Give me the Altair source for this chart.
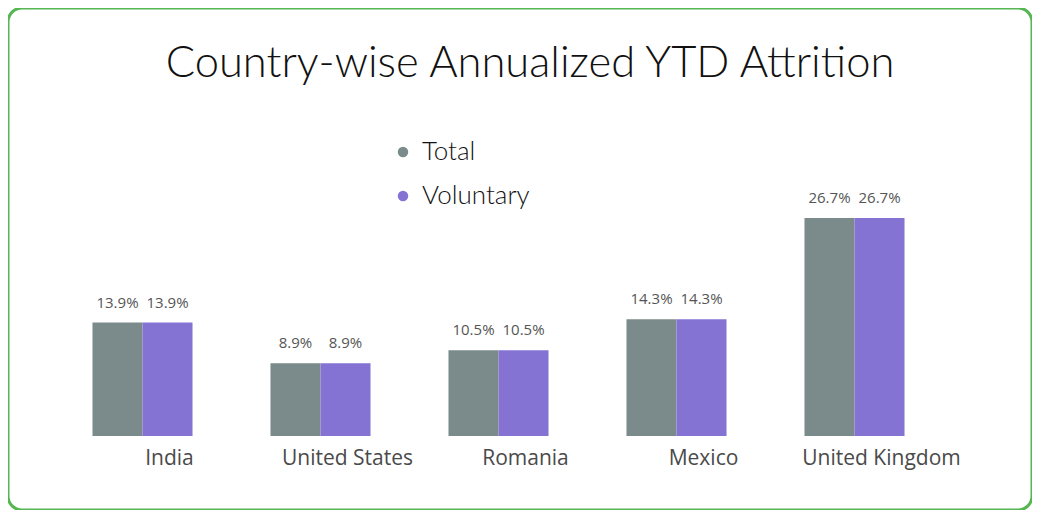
import altair as alt
import pandas as pd

countries = ["India", "United States", "Romania", "Mexico", "United Kingdom"]
total = [13.9, 8.9, 10.5, 14.3, 26.7]
voluntary = [13.9, 8.9, 10.5, 14.3, 26.7]
series = ["Total", "Voluntary"]
colors = ["#7b8b8b", "#8573d4"]

rows = []
for c, t, v in zip(countries, total, voluntary):
    rows.append({"country": c, "series": "Total", "value": t})
    rows.append({"country": c, "series": "Voluntary", "value": v})
df = pd.DataFrame(rows)

W, H = 1024, 502

x = alt.X(
    "country:N",
    sort=countries,
    scale=alt.Scale(range=[45.5, 935.5], paddingInner=0.438, paddingOuter=0.219),
    axis=alt.Axis(
        title=None, orient="bottom", offset=-74, domain=False, ticks=False,
        labelAngle=0, labelOffset=27, labelPadding=22, labelFontSize=21,
        labelFont="Open Sans", labelColor="#4a4a4a", labelBaseline="middle",
    ),
)
xo = alt.XOffset("series:N", sort=series, scale=alt.Scale(paddingInner=0, paddingOuter=0))
y = alt.Y("value:Q", scale=alt.Scale(domain=[-9.07, 52.45], zero=False, nice=False), axis=None)

base = alt.Chart(df)

bars = base.mark_bar().encode(
    x=x,
    xOffset=xo,
    y=y,
    color=alt.Color(
        "series:N",
        sort=series,
        scale=alt.Scale(domain=series, range=colors),
        legend=alt.Legend(
            title=None, orient="none", legendX=382, legendY=131,
            symbolType="circle", symbolSize=110, symbolStrokeWidth=0,
            labelFontSize=26, labelFont="Lato", labelFontWeight=300,
            labelColor="#111111", rowPadding=18, labelOffset=6,
        ),
    ),
)

labels = base.transform_calculate(
    lbl="format(datum.value, '.1f') + '%'"
).mark_text(
    baseline="bottom", dy=-12, fontSize=15, font="Open Sans", color="#555555"
).encode(
    x=x, xOffset=xo, y=y, text="lbl:N"
)

chart = alt.layer(bars, labels).properties(
    width=W,
    height=H,
    autosize=alt.AutoSizeParams(type="none"),
    padding=0,
    title=alt.TitleParams(
        "Country-wise Annualized YTD Attrition",
        fontSize=43.5, font="Lato", fontWeight=300, color="#111111",
        anchor="middle", baseline="middle", offset=-99, dx=10,
    ),
).configure_view(
    stroke="#55b752", strokeWidth=3, cornerRadius=14
)

chart.save("out.html", embed_options={"renderer": "svg", "actions": False})
